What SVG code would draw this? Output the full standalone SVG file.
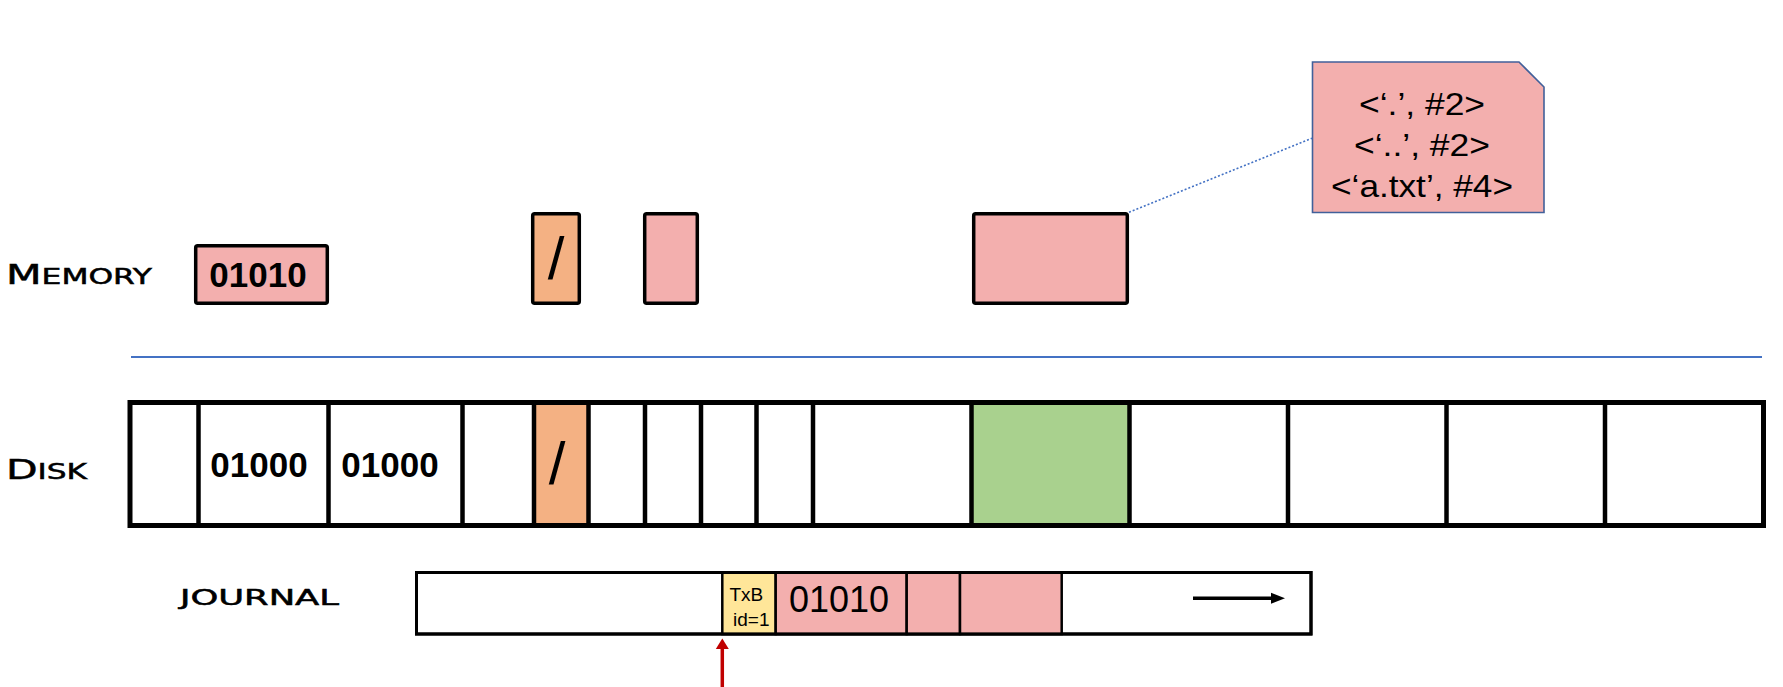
<svg xmlns="http://www.w3.org/2000/svg" width="1783" height="687" viewBox="0 0 1783 687">
<style>
.lbl{font-family:"DejaVu Sans","Liberation Sans",sans-serif;font-weight:normal;fill:#000;stroke:#000;stroke-width:0.5}
.big{font-size:27px}
.sm{font-size:20.5px}
.bin{font-family:"Liberation Sans",Arial,sans-serif;font-weight:bold;font-size:35px;fill:#000}
.sl{font-family:"Liberation Sans",Arial,sans-serif;font-size:60px;fill:#000}
.txt{font-family:"Liberation Sans",Arial,sans-serif;fill:#000}
.mem{stroke:#000;stroke-width:3.5;stroke-linejoin:round}
.pink{fill:#f3afae}
.orange{fill:#f4b183}
.green{fill:#a9d18e}
.yellow{fill:#ffe699}
.cell{stroke:#000;stroke-width:4.5}
.jc{stroke:#000;stroke-width:2.5}
</style>
<rect width="1783" height="687" fill="#fff"/>

<g id="labels">
<text class="lbl" x="6" y="284" textLength="146" lengthAdjust="spacingAndGlyphs"><tspan class="big">M</tspan><tspan class="sm">EMORY</tspan></text>
<text class="lbl" x="6" y="479" textLength="81" lengthAdjust="spacingAndGlyphs"><tspan class="big">D</tspan><tspan class="sm">ISK</tspan></text>
<text class="lbl sm" x="180" y="605" textLength="159" lengthAdjust="spacingAndGlyphs">JOURNAL</text>
</g>

<g id="mem-bitmap">
<rect class="mem pink" x="195.7" y="245.7" width="131.6" height="57.6" rx="2"/>
<text class="bin" x="258" y="287" text-anchor="middle">01010</text>
</g>
<g id="mem-root-inode">
<rect class="mem orange" x="532.7" y="213.7" width="46.6" height="89.6" rx="2"/>
<text class="sl" x="556" y="279" text-anchor="middle">/</text>
</g>
<g id="mem-inode">
<rect class="mem pink" x="644.7" y="213.7" width="52.6" height="89.6" rx="2"/>
</g>
<g id="mem-dir-block">
<rect class="mem pink" x="973.7" y="213.7" width="153.6" height="89.6" rx="2"/>
</g>

<g id="note">
<path d="M1312.5,62 H1519 L1544,87 V212.5 H1312.5 Z" fill="#f3afae" stroke="#41609a" stroke-width="1.6"/>
<text class="txt" x="1359" y="115" font-size="32" textLength="126" lengthAdjust="spacingAndGlyphs">&lt;‘.’, #2&gt;</text>
<text class="txt" x="1354" y="156" font-size="32" textLength="136" lengthAdjust="spacingAndGlyphs">&lt;‘..’, #2&gt;</text>
<text class="txt" x="1331" y="197" font-size="32" textLength="182" lengthAdjust="spacingAndGlyphs">&lt;‘a.txt’, #4&gt;</text>
</g>

<g id="divider">
<line x1="131" y1="357" x2="1762" y2="357" stroke="#4472c4" stroke-width="2"/>
</g>

<g id="disk">
<rect x="534" y="402.5" width="54.5" height="123" class="orange"/>
<rect x="971.5" y="402.5" width="158" height="123" class="green"/>
<rect x="130" y="402.5" width="1633.5" height="123" fill="none" stroke="#000" stroke-width="5"/>
<g class="cell">
<line x1="198.5" y1="402.5" x2="198.5" y2="525.5"/>
<line x1="328.5" y1="402.5" x2="328.5" y2="525.5"/>
<line x1="462.5" y1="402.5" x2="462.5" y2="525.5"/>
<line x1="534" y1="402.5" x2="534" y2="525.5"/>
<line x1="588.5" y1="402.5" x2="588.5" y2="525.5"/>
<line x1="645" y1="402.5" x2="645" y2="525.5"/>
<line x1="701" y1="402.5" x2="701" y2="525.5"/>
<line x1="756.5" y1="402.5" x2="756.5" y2="525.5"/>
<line x1="813" y1="402.5" x2="813" y2="525.5"/>
<line x1="971.5" y1="402.5" x2="971.5" y2="525.5"/>
<line x1="1129.5" y1="402.5" x2="1129.5" y2="525.5"/>
<line x1="1288" y1="402.5" x2="1288" y2="525.5"/>
<line x1="1446.5" y1="402.5" x2="1446.5" y2="525.5"/>
<line x1="1605" y1="402.5" x2="1605" y2="525.5"/>
</g>
<text class="bin" x="259" y="477" text-anchor="middle">01000</text>
<text class="bin" x="390" y="477" text-anchor="middle">01000</text>
<text class="sl" x="557" y="484" text-anchor="middle">/</text>
</g>

<g id="journal">
<rect x="416.5" y="572.5" width="894.5" height="61.5" fill="#fff" stroke="#000" stroke-width="3"/>
<rect class="jc yellow" x="722.3" y="572.5" width="53.4" height="61.5"/>
<rect class="jc pink" x="775.7" y="572.5" width="131" height="61.5"/>
<rect class="jc pink" x="906.7" y="572.5" width="53.3" height="61.5"/>
<rect class="jc pink" x="960" y="572.5" width="101.7" height="61.5"/>
<rect x="416.5" y="572.5" width="894.5" height="61.5" fill="none" stroke="#000" stroke-width="3"/>
<text class="txt" x="729.5" y="601" font-size="19">TxB</text>
<text class="txt" x="733" y="625.5" font-size="19">id=1</text>
<text class="txt" x="789" y="612" font-size="36">01010</text>
</g>

<g id="connectors">
<line x1="1129" y1="212.3" x2="1312" y2="138.3" stroke="#4472c4" stroke-width="1.6" stroke-dasharray="2 2"/>
<line x1="1193" y1="598.3" x2="1274" y2="598.3" stroke="#000" stroke-width="3.5"/>
<path d="M1285,598.3 L1271,592.8 L1271,603.8 Z" fill="#000"/>
<line x1="722.3" y1="647" x2="722.3" y2="687" stroke="#c00000" stroke-width="3.5"/>
<path d="M722.3,638.5 L715.8,649 L728.8,649 Z" fill="#c00000"/>
</g>
</svg>
